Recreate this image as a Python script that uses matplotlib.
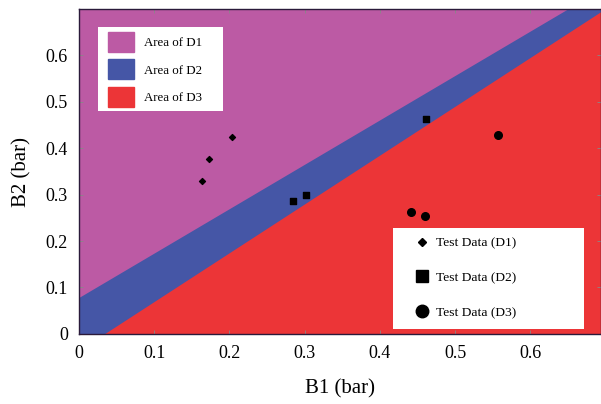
import numpy as np
import matplotlib
matplotlib.use("Agg")
import matplotlib.pyplot as plt
from matplotlib.patches import Patch, Rectangle
from matplotlib.lines import Line2D

plt.rcParams['font.family'] = ['Liberation Serif', 'DejaVu Serif']

# limites de las zonas (rectas y = a + b*x)
upper_intercept, upper_slope = 0.077, 0.955   # D1 / D2
lower_intercept, lower_slope = -0.0368, 1.05  # D2 / D3

# datos de prueba
d1_x = [0.163, 0.173, 0.203]
d1_y = [0.330, 0.376, 0.424]
d2_x = [0.285, 0.302, 0.461]
d2_y = [0.286, 0.298, 0.462]
d3_x = [0.441, 0.460, 0.557]
d3_y = [0.263, 0.254, 0.429]

x_ticks = [0, 0.1, 0.2, 0.3, 0.4, 0.5, 0.6]
y_ticks = [0, 0.1, 0.2, 0.3, 0.4, 0.5, 0.6]
tick_labels = ['0', '0.1', '0.2', '0.3', '0.4', '0.5', '0.6']

c_d1 = '#bc5aa4'
c_d2 = '#4556a6'
c_d3 = '#ec3537'

xmax, ymax = 0.694, 0.698

fig = plt.figure(figsize=(6.01, 4.04), dpi=100)
ax = fig.add_axes([0.1314, 0.1733, 0.8686, 0.8032])

# zonas superpuestas para evitar bordes blancos
xs = np.linspace(0, xmax, 200)
up = upper_intercept + upper_slope * xs
lo = lower_intercept + lower_slope * xs
ax.set_facecolor(c_d1)
ax.fill_between(xs, -1, up, color=c_d2, lw=0)
ax.fill_between(xs, -1, lo, color=c_d3, lw=0)

ax.scatter(d1_x, d1_y, marker='D', s=9, color='black', zorder=3)
ax.scatter(d2_x, d2_y, marker='s', s=22, color='black', zorder=3)
ax.scatter(d3_x, d3_y, marker='o', s=30, color='black', zorder=3)

ax.set_xlim(0, xmax)
ax.set_ylim(0, ymax)
ax.set_xticks(x_ticks)
ax.set_yticks(y_ticks)
ax.set_xticklabels(tick_labels, fontsize=13)
ax.set_yticklabels(tick_labels, fontsize=13)
ax.tick_params(direction='in', top=True, right=True, length=3, width=0.6,
               color='#888888', pad=8)
for s in ax.spines.values():
    s.set_color('#2a1a3a')
    s.set_linewidth(1.0)

ax.set_xlabel('B1 (bar)', fontsize=15, labelpad=12)
ax.set_ylabel('B2 (bar)', fontsize=15, labelpad=10)

# cajas blancas de las leyendas
ax.add_patch(Rectangle((0.0364, 0.687), 0.2395, 0.259, transform=ax.transAxes,
                       facecolor='white', edgecolor='none', zorder=4))
ax.add_patch(Rectangle((0.6015, 0.0154), 0.366, 0.311, transform=ax.transAxes,
                       facecolor='white', edgecolor='none', zorder=4))

area_handles = [Patch(facecolor=c_d1, edgecolor=c_d1, label='Area of D1'),
                Patch(facecolor=c_d2, edgecolor=c_d2, label='Area of D2'),
                Patch(facecolor=c_d3, edgecolor=c_d3, label='Area of D3')]
leg1 = ax.legend(handles=area_handles, loc='upper left', bbox_to_anchor=(0.0556, 0.9307),
                 fontsize=9.3, frameon=False, handlelength=2.0, handleheight=2.0,
                 labelspacing=0.58, borderpad=0, borderaxespad=0, handletextpad=0.78)
leg1.set_zorder(5)
ax.add_artist(leg1)

pt_handles = [Line2D([], [], ls='', marker='D', ms=4, color='black', label='Test Data (D1)'),
              Line2D([], [], ls='', marker='s', ms=8, color='black', label='Test Data (D2)'),
              Line2D([], [], ls='', marker='o', ms=9, color='black', label='Test Data (D3)')]
leg2 = ax.legend(handles=pt_handles, loc='center left', bbox_to_anchor=(0.639, 0.1726),
                 fontsize=9.7, frameon=False, handlelength=1.4, labelspacing=1.65,
                 borderpad=0, borderaxespad=0, handletextpad=0.33)
leg2.set_zorder(5)

fig.savefig('out.png', dpi=100)
